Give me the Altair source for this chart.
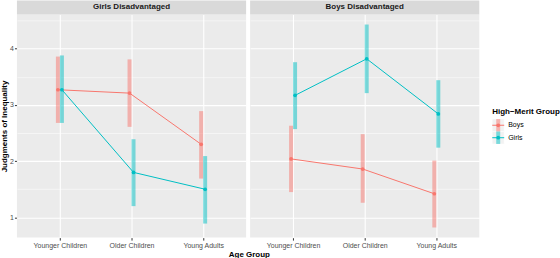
import altair as alt
import pandas as pd

# Facet panels, age groups and high-merit groups
panels = ["Girls Disadvantaged", "Boys Disadvantaged"]
ages = ["Younger Children", "Older Children", "Young Adults"]
merit_groups = ["Boys", "Girls"]
colors = ["#F8766D", "#00BFC4"]

# Mean judgments with interval bounds, in age order
gd_boys_mean = [3.27, 3.21, 2.30]
gd_boys_lo = [2.68, 2.61, 1.69]
gd_boys_hi = [3.86, 3.81, 2.89]

gd_girls_mean = [3.27, 1.80, 1.50]
gd_girls_lo = [2.68, 1.20, 0.89]
gd_girls_hi = [3.88, 2.39, 2.09]

bd_boys_mean = [2.04, 1.86, 1.42]
bd_boys_lo = [1.45, 1.26, 0.82]
bd_boys_hi = [2.63, 2.48, 2.01]

bd_girls_mean = [3.17, 3.82, 2.84]
bd_girls_lo = [2.57, 3.21, 2.24]
bd_girls_hi = [3.76, 4.43, 3.44]

series = [
    ("Girls Disadvantaged", "Boys", gd_boys_mean, gd_boys_lo, gd_boys_hi),
    ("Girls Disadvantaged", "Girls", gd_girls_mean, gd_girls_lo, gd_girls_hi),
    ("Boys Disadvantaged", "Boys", bd_boys_mean, bd_boys_lo, bd_boys_hi),
    ("Boys Disadvantaged", "Girls", bd_girls_mean, bd_girls_lo, bd_girls_hi),
]
rows = []
for panel, grp, means, los, his in series:
    for age, m, lo, hi in zip(ages, means, los, his):
        rows.append({"panel": panel, "age": age, "group": grp,
                     "mean": m, "lo": lo, "hi": hi})
df = pd.DataFrame(rows)

FONT = "Liberation Sans"
PW, PH = 230, 224
GAP = 4

color = alt.Color("group:N", scale=alt.Scale(domain=merit_groups, range=colors), legend=None)

x_enc = alt.X(
    "age:N", sort=ages,
    scale=alt.Scale(type="point", padding=0.6),
    axis=alt.Axis(title=None, labelAngle=0, labelFontSize=7, labelColor="#4D4D4D",
                  labelPadding=1, tickColor="#333333", tickSize=2.5, domain=False,
                  grid=True, gridColor="white", gridWidth=1.1),
)
y_scale = alt.Scale(domain=[0.64, 4.61], nice=False, zero=False)
y_axis = alt.Axis(
    values=[1, 1.5, 2, 2.5, 3, 3.5, 4, 4.5],
    labelExpr="datum.value % 1 == 0 ? format(datum.value, 'd') : ''",
    title="Judgments of Inequality", titleFontSize=8, titleFontWeight="bold",
    titleColor="black", titlePadding=1,
    labelFontSize=7, labelColor="#4D4D4D", labelPadding=1,
    tickColor="#333333", tickSize=2.5, domain=False,
    tickOpacity={"condition": {"test": "datum.value % 1 != 0", "value": 0}, "value": 1},
    gridColor="white",
    gridWidth={"condition": {"test": "datum.value % 1 != 0", "value": 0.5}, "value": 1.1},
)

offsets = {"Boys": -2, "Girls": 2}

bar_layers, line_layers, point_layers = [], [], []
for grp in merit_groups:
    base = alt.Chart().transform_filter(alt.datum.group == grp)
    bar_layers.append(
        base.mark_rule(strokeWidth=4, opacity=0.5, xOffset=offsets[grp]).encode(
            x=x_enc, y=alt.Y("lo:Q", scale=y_scale, axis=y_axis), y2="hi:Q", color=color)
    )
    line_layers.append(
        base.mark_line(strokeWidth=1, xOffset=offsets[grp]).encode(
            x=x_enc, y=alt.Y("mean:Q", scale=y_scale, axis=y_axis), color=color)
    )
    point_layers.append(
        base.mark_circle(size=14, opacity=1, xOffset=offsets[grp]).encode(
            x=x_enc, y=alt.Y("mean:Q", scale=y_scale, axis=y_axis), color=color)
    )

# Panel strip above each cell
strip_base = alt.Chart().transform_aggregate(n="count()", groupby=["panel"])
strip = strip_base.mark_rect(color="#D9D9D9", clip=False).encode(
    x=alt.value(0), x2=alt.value(PW), y=alt.value(-14), y2=alt.value(0))
strip_text = strip_base.mark_text(font=FONT, fontSize=8, fontWeight="bold",
                                  color="#1A1A1A", baseline="middle", clip=False).encode(
    text="panel:N", x=alt.value(PW / 2), y=alt.value(-7))

panel_layer = alt.layer(*bar_layers, *line_layers, *point_layers,
                        strip, strip_text).properties(
    width=PW, height=PH, view=alt.ViewBackground(fill="#EBEBEB", stroke=None))

faceted = panel_layer.facet(
    column=alt.Column("panel:N", sort=panels, header=alt.Header(labels=False, title=None)),
    data=df, spacing=GAP,
)

# Legend: key boxes with interval bar, line and point
leg_df = pd.DataFrame({"group": merit_groups})
leg_y = alt.Y("group:N", sort=merit_groups, scale=alt.Scale(range=[105, 130]), axis=None)
leg_color = alt.Color("group:N", scale=alt.Scale(domain=merit_groups, range=colors), legend=None)
leg_base = alt.Chart(leg_df)
leg_bg = leg_base.mark_rect(color="#F2F2F2", stroke="white", strokeWidth=0.5).encode(
    y=leg_y, x=alt.value(0), x2=alt.value(12))
leg_bar = leg_base.mark_rect(opacity=0.5).encode(
    y=leg_y, x=alt.value(4), x2=alt.value(8), color=leg_color)
leg_line = leg_base.mark_rule(strokeWidth=1).encode(
    y=leg_y, x=alt.value(0), x2=alt.value(12), color=leg_color)
leg_pt = leg_base.mark_circle(size=14, opacity=1).encode(
    y=leg_y, x=alt.value(6), color=leg_color)
leg_lab = leg_base.mark_text(font=FONT, fontSize=7, align="left", baseline="middle",
                             color="black").encode(
    y=leg_y, x=alt.value(16), text="group:N")
leg_title = alt.Chart(pd.DataFrame({"t": ["High\u2212Merit Group"]})).mark_text(
    font=FONT, fontSize=8, fontWeight="bold", align="left", baseline="middle",
    color="black").encode(text="t:N", x=alt.value(0), y=alt.value(97.5))
legend = alt.layer(leg_bg, leg_bar, leg_line, leg_pt, leg_lab, leg_title).properties(
    width=60, height=PH, view=alt.ViewBackground(fill="white", stroke=None))

# Shared x-axis title below both panels
x_title = alt.TitleParams("Age Group", orient="bottom", anchor="start", frame="bounds",
                          dx=229, offset=2.5, fontSize=8, fontWeight="bold",
                          color="black", font=FONT)

chart = alt.hconcat(faceted, legend, spacing=12).properties(
    padding=0, background="white", title=x_title
).configure(font=FONT).configure_view(stroke=None)

chart.save("out.html", embed_options={"renderer": "svg", "actions": False})
